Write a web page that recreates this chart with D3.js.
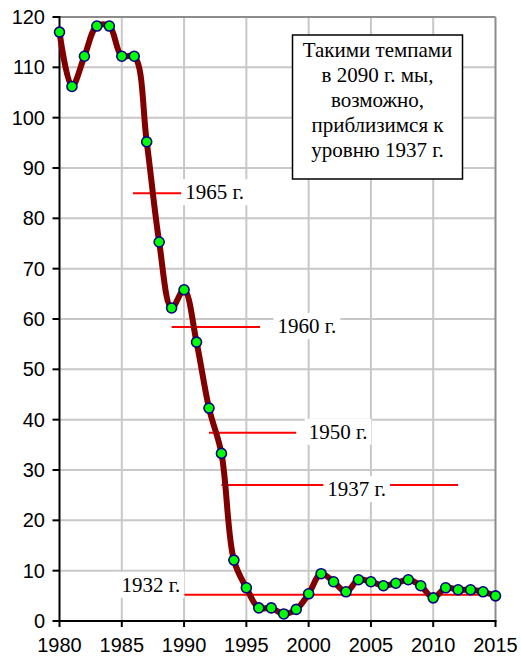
<!DOCTYPE html>
<html>
<head>
<meta charset="utf-8">
<script src="https://cdn.jsdelivr.net/npm/d3@7"></script>
<style>
html,body{margin:0;padding:0;background:#fff;}
svg{display:block;}
</style>
</head>
<body>
<svg id="chart" width="521" height="657"></svg>
<script>
// ---- data ----
const years = [1980,1981,1982,1983,1984,1985,1986,1987,1988,1989,1990,1991,1992,1993,1994,1995,1996,1997,1998,1999,2000,2001,2002,2003,2004,2005,2006,2007,2008,2009,2010,2011,2012,2013,2014,2015];
const values = [117.0,106.2,112.2,118.2,118.2,112.2,112.2,95.2,75.3,62.2,65.8,55.4,42.3,33.3,12.1,6.6,2.6,2.6,1.4,2.3,5.4,9.4,7.8,5.8,8.2,7.8,7.0,7.5,8.2,7.0,4.6,6.6,6.2,6.2,5.8,5.0];
const xTicks = [1980,1985,1990,1995,2000,2005,2010,2015];
const yTicks = [0,10,20,30,40,50,60,70,80,90,100,110,120];
// reference levels: label, level, line start year, line end year, label year
const refLabels = ["1965 г.","1960 г.","1950 г.","1937 г.","1932 г."];
const refLevels = [85.0,58.4,37.4,27.0,5.2];
const refFrom = [1985.9,1989.0,1992.0,1993.0,1990.0];
const refTo   = [1989.8,1996.1,1999.0,2012.0,2015.0];
const refTextYear = [1990.1,1997.5,2000.0,2001.5,1989.7];
const noteLines = ["Такими темпами","в 2090 г. мы,","возможно,","приблизимся к","уровню 1937 г."];

// ---- layout ----
const svg = d3.select("#chart");
const x = d3.scaleLinear().domain([1980,2015]).range([59.5,495.5]);
const y = d3.scaleLinear().domain([0,120]).range([621,17]);

// grid
const grid = svg.append("g");
grid.selectAll("line.v").data(xTicks.filter(d=>d>1980 && d<2015)).join("line")
  .attr("x1",d=>x(d)).attr("x2",d=>x(d)).attr("y1",y(0)).attr("y2",y(120))
  .attr("stroke","#c8c8c8").attr("stroke-width",2);
grid.selectAll("line.h").data(yTicks.filter(d=>d>0 && d<120)).join("line")
  .attr("x1",x(1980)).attr("x2",x(2015)).attr("y1",d=>y(d)).attr("y2",d=>y(d))
  .attr("stroke","#c8c8c8").attr("stroke-width",2);
// border top/right
grid.append("line").attr("x1",x(1980)).attr("x2",x(2015)).attr("y1",y(120)).attr("y2",y(120))
  .attr("stroke","#8c8c8c").attr("stroke-width",2);
grid.append("line").attr("x1",x(2015)).attr("x2",x(2015)).attr("y1",y(120)).attr("y2",y(0))
  .attr("stroke","#8c8c8c").attr("stroke-width",2);

// reference lines
const refs = refLabels.map((l,i)=>({label:l, v:refLevels[i], a:refFrom[i], b:refTo[i], t:refTextYear[i]}));
const refG = svg.append("g");
refs.forEach((r,i)=>{
  refG.append("line").attr("x1",x(r.a)).attr("x2",x(r.b)).attr("y1",y(r.v)).attr("y2",y(r.v))
    .attr("stroke","#ff0000").attr("stroke-width",2);
});
refs.forEach((r,i)=>{
  const last = i===refs.length-1;
  const g = refG.append("g");
  const dy = last ? -3 : (i===3 ? 11 : 6);
  const txt = g.append("text")
    .attr("x", x(r.t)).attr("y", y(r.v)+dy)
    .attr("text-anchor", last ? "end" : "start")
    .attr("font-family","'Liberation Serif','Times New Roman',serif")
    .attr("font-size",21).attr("fill","#000").text(r.label);
  const bb = txt.node().getBBox();
  g.insert("rect","text").attr("x",bb.x-4).attr("y",bb.y-1).attr("width",bb.width+8).attr("height",bb.height+2)
    .attr("fill","#fff");
});

// axes
const axG = svg.append("g");
axG.append("line").attr("x1",x(1980)).attr("x2",x(1980)).attr("y1",y(120)-1).attr("y2",y(0)+1)
  .attr("stroke","#000").attr("stroke-width",2);
axG.append("line").attr("x1",x(1980)-1).attr("x2",x(2015)+1).attr("y1",y(0)).attr("y2",y(0))
  .attr("stroke","#000").attr("stroke-width",2);
axG.selectAll("line.yt").data(yTicks).join("line")
  .attr("x1",x(1980)-7).attr("x2",x(1980)).attr("y1",d=>y(d)).attr("y2",d=>y(d))
  .attr("stroke","#000").attr("stroke-width",2);
axG.selectAll("line.xt").data(xTicks).join("line")
  .attr("x1",d=>x(d)).attr("x2",d=>x(d)).attr("y1",y(0)).attr("y2",y(0)+6)
  .attr("stroke","#000").attr("stroke-width",2);
axG.selectAll("text.yl").data(yTicks).join("text")
  .attr("x",45).attr("y",d=>y(d)).attr("dy","0.35em").attr("text-anchor","end")
  .attr("font-family","'Liberation Sans',Arial,sans-serif").attr("font-size",20).attr("fill","#000")
  .text(d=>d);
axG.selectAll("text.xl").data(xTicks).join("text")
  .attr("x",d=>x(d)).attr("y",652).attr("text-anchor","middle")
  .attr("font-family","'Liberation Sans',Arial,sans-serif").attr("font-size",20).attr("fill","#000")
  .text(d=>d);

// series
const pts = years.map((yr,i)=>({yr, v:values[i]}));
svg.append("path").datum(pts)
  .attr("d", d3.line().x(d=>x(d.yr)).y(d=>y(d.v)).curve(d3.curveCatmullRom.alpha(0.5)))
  .attr("fill","none").attr("stroke","#800000").attr("stroke-width",6).attr("stroke-linejoin","round");
svg.append("g").selectAll("circle").data(pts).join("circle")
  .attr("cx",d=>x(d.yr)).attr("cy",d=>y(d.v)).attr("r",5)
  .attr("fill","#00ff00").attr("stroke","#000080").attr("stroke-width",1.6);

// note box
const note = svg.append("g");
note.append("rect").attr("x",292.5).attr("y",35).attr("width",170).attr("height",144)
  .attr("fill","#fff").attr("stroke","#000").attr("stroke-width",1.5);
note.selectAll("text").data(noteLines).join("text")
  .attr("x",377.5).attr("y",(d,i)=>57+i*25).attr("text-anchor","middle")
  .attr("font-family","'Liberation Serif','Times New Roman',serif").attr("font-size",21).attr("fill","#000")
  .text(d=>d);
</script>
</body>
</html>
